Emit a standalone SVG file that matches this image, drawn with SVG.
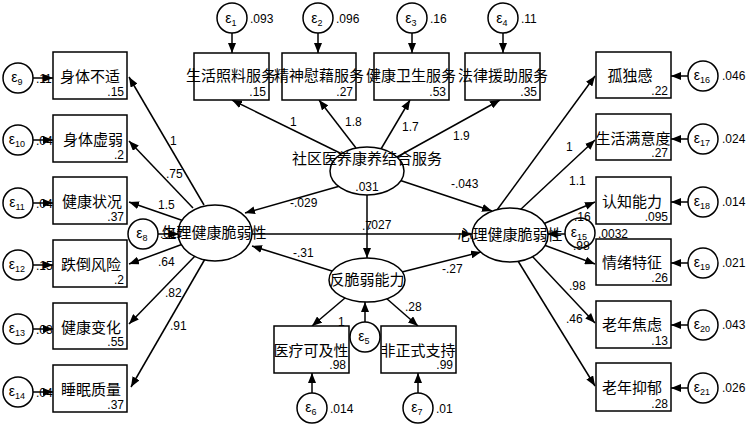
<svg xmlns="http://www.w3.org/2000/svg" width="748" height="426" viewBox="0 0 748 426">
<defs>
<marker id="ah" viewBox="0 0 10 8" refX="10" refY="4" markerWidth="10" markerHeight="8" markerUnits="userSpaceOnUse" orient="auto">
<path d="M0,0 L10,4 L0,8 Z" fill="#000"/>
</marker>
</defs>
<style>
rect.b{fill:#fff;stroke:#000;stroke-width:1.5}
circle.e{fill:#fff;stroke:#000;stroke-width:1.5}
ellipse.l{fill:#fff;stroke:#000;stroke-width:1.5}
.c line{stroke:#000;stroke-width:1.5;marker-end:url(#ah)}
text{font-family:"Liberation Sans","Noto Sans CJK SC",sans-serif;fill:#000}
.zh{font-family:"Noto Sans CJK SC","Liberation Sans",sans-serif;font-size:15px;text-anchor:middle}
.n{font-size:12px}
.v{font-size:12px;text-anchor:end}
.eps{font-size:14px;text-anchor:middle}
.sub{font-size:9px}
</style>

<g id="connectors" class="c">
<line x1="232" y1="33" x2="232" y2="53"/>
<line x1="318" y1="33" x2="318" y2="53"/>
<line x1="412" y1="33" x2="412" y2="53"/>
<line x1="503" y1="33" x2="503" y2="53"/>
<line x1="33" y1="78" x2="53" y2="78"/>
<line x1="33" y1="140" x2="53" y2="140"/>
<line x1="33" y1="203" x2="53" y2="203"/>
<line x1="33" y1="265" x2="53" y2="265"/>
<line x1="33" y1="329" x2="53" y2="329"/>
<line x1="33" y1="392" x2="53" y2="392"/>
<line x1="158" y1="234" x2="179" y2="234"/>
<line x1="688" y1="76" x2="671" y2="76"/>
<line x1="688" y1="139" x2="671" y2="139"/>
<line x1="688" y1="202" x2="671" y2="202"/>
<line x1="688" y1="263" x2="671" y2="263"/>
<line x1="688" y1="325" x2="671" y2="325"/>
<line x1="688" y1="388" x2="671" y2="388"/>
<line x1="565" y1="234" x2="547" y2="234"/>
<line x1="365" y1="322" x2="365" y2="302"/>
<line x1="312" y1="393" x2="312" y2="373"/>
<line x1="418" y1="393" x2="418" y2="373"/>
<line x1="342" y1="154" x2="232" y2="100"/>
<line x1="356" y1="148" x2="319" y2="100"/>
<line x1="381" y1="149" x2="410" y2="100"/>
<line x1="397" y1="157" x2="500" y2="100"/>
<line x1="340" y1="186" x2="245" y2="213"/>
<line x1="399" y1="180" x2="492" y2="211"/>
<line x1="367" y1="195" x2="367" y2="258"/>
<line x1="252" y1="234" x2="472" y2="234"/>
<line x1="332" y1="271" x2="252" y2="246"/>
<line x1="402" y1="272" x2="481" y2="252"/>
<line x1="345" y1="298" x2="312" y2="326"/>
<line x1="386" y1="298" x2="418" y2="326"/>
<line x1="204" y1="205" x2="129" y2="77"/>
<line x1="193" y1="208" x2="129" y2="141"/>
<line x1="184" y1="221" x2="129" y2="202"/>
<line x1="183" y1="244" x2="129" y2="264"/>
<line x1="195" y1="256" x2="129" y2="324"/>
<line x1="205" y1="259" x2="131" y2="387"/>
<line x1="497" y1="210" x2="595" y2="76"/>
<line x1="520" y1="210" x2="595" y2="140"/>
<line x1="543" y1="224" x2="595" y2="202"/>
<line x1="544" y1="245" x2="595" y2="264"/>
<line x1="532" y1="256" x2="595" y2="323"/>
<line x1="518" y1="261" x2="595" y2="386"/>
</g>

<g id="e1"><circle class="e" cx="232" cy="18" r="15"/><text class="eps" x="231" y="23">ε<tspan class="sub" dy="3">1</tspan></text><text class="n" x="250" y="23">.093</text></g>
<g id="e2"><circle class="e" cx="318" cy="18" r="15"/><text class="eps" x="317" y="23">ε<tspan class="sub" dy="3">2</tspan></text><text class="n" x="336" y="23">.096</text></g>
<g id="e3"><circle class="e" cx="412" cy="18" r="15"/><text class="eps" x="411" y="23">ε<tspan class="sub" dy="3">3</tspan></text><text class="n" x="430" y="23">.16</text></g>
<g id="e4"><circle class="e" cx="503" cy="18" r="15"/><text class="eps" x="502" y="23">ε<tspan class="sub" dy="3">4</tspan></text><text class="n" x="521" y="23">.11</text></g>

<g id="n_shzl"><rect class="b" x="194" y="53" width="75" height="47"/><text class="zh" x="231" y="81">生活照料服务</text><text class="v" x="266" y="96">.15</text></g>
<g id="n_jswj"><rect class="b" x="282" y="53" width="74" height="47"/><text class="zh" x="319" y="81">精神慰藉服务</text><text class="v" x="353" y="96">.27</text></g>
<g id="n_jkws"><rect class="b" x="374" y="53" width="75" height="47"/><text class="zh" x="411" y="81">健康卫生服务</text><text class="v" x="446" y="96">.53</text></g>
<g id="n_flyz"><rect class="b" x="465" y="53" width="75" height="47"/><text class="zh" x="503" y="81">法律援助服务</text><text class="v" x="537" y="96">.35</text></g>

<g id="e9"><circle class="e" cx="18" cy="78" r="15"/><text class="eps" x="17" y="82">ε<tspan class="sub" dy="3">9</tspan></text><text class="n" x="36" y="83">.11</text></g>
<g id="e10"><circle class="e" cx="18" cy="140" r="15"/><text class="eps" x="17" y="144">ε<tspan class="sub" dy="3">10</tspan></text><text class="n" x="36" y="145">.049</text></g>
<g id="e11"><circle class="e" cx="18" cy="203" r="15"/><text class="eps" x="17" y="207">ε<tspan class="sub" dy="3">11</tspan></text><text class="n" x="36" y="208">.049</text></g>
<g id="e12"><circle class="e" cx="18" cy="265" r="15"/><text class="eps" x="17" y="269">ε<tspan class="sub" dy="3">12</tspan></text><text class="n" x="36" y="270">.15</text></g>
<g id="e13"><circle class="e" cx="18" cy="329" r="15"/><text class="eps" x="17" y="333">ε<tspan class="sub" dy="3">13</tspan></text><text class="n" x="36" y="334">.032</text></g>
<g id="e14"><circle class="e" cx="18" cy="392" r="15"/><text class="eps" x="17" y="396">ε<tspan class="sub" dy="3">14</tspan></text><text class="n" x="36" y="397">.048</text></g>

<g id="n_stbs"><rect class="b" x="53" y="52" width="74" height="47"/><text class="zh" x="90" y="82">身体不适</text><text class="v" x="124" y="96">.15</text></g>
<g id="n_stxr"><rect class="b" x="53" y="115" width="74" height="47"/><text class="zh" x="93" y="145">身体虚弱</text><text class="v" x="124" y="159">.2</text></g>
<g id="n_jkzk"><rect class="b" x="53" y="177" width="74" height="47"/><text class="zh" x="92" y="207">健康状况</text><text class="v" x="124" y="221">.37</text></g>
<g id="n_ddfx"><rect class="b" x="53" y="240" width="74" height="47"/><text class="zh" x="91" y="270">跌倒风险</text><text class="v" x="124" y="284">.2</text></g>
<g id="n_jkbh"><rect class="b" x="53" y="303" width="74" height="46"/><text class="zh" x="91" y="333">健康变化</text><text class="v" x="124" y="346">.55</text></g>
<g id="n_smzl"><rect class="b" x="53" y="365" width="74" height="47"/><text class="zh" x="91" y="395">睡眠质量</text><text class="v" x="124" y="409">.37</text></g>

<g id="n_gdg"><rect class="b" x="596" y="52" width="75" height="46"/><text class="zh" x="630" y="81">孤独感</text><text class="v" x="668" y="95">.22</text></g>
<g id="n_shmyd"><rect class="b" x="596" y="114" width="75" height="46"/><text class="zh" x="633" y="144">生活满意度</text><text class="v" x="668" y="157">.27</text></g>
<g id="n_rznl"><rect class="b" x="596" y="177" width="75" height="47"/><text class="zh" x="632" y="207">认知能力</text><text class="v" x="668" y="221">.095</text></g>
<g id="n_qxtz"><rect class="b" x="596" y="239" width="75" height="46"/><text class="zh" x="632" y="268">情绪特征</text><text class="v" x="668" y="282">.26</text></g>
<g id="n_lnjl"><rect class="b" x="596" y="301" width="75" height="47"/><text class="zh" x="632" y="330">老年焦虑</text><text class="v" x="668" y="345">.13</text></g>
<g id="n_lnyy"><rect class="b" x="596" y="363" width="75" height="48"/><text class="zh" x="632" y="393">老年抑郁</text><text class="v" x="668" y="408">.28</text></g>

<g id="e16"><circle class="e" cx="703" cy="76" r="15"/><text class="eps" x="702" y="80">ε<tspan class="sub" dy="3">16</tspan></text><text class="n" x="722" y="80">.046</text></g>
<g id="e17"><circle class="e" cx="703" cy="139" r="15"/><text class="eps" x="702" y="143">ε<tspan class="sub" dy="3">17</tspan></text><text class="n" x="722" y="143">.024</text></g>
<g id="e18"><circle class="e" cx="703" cy="202" r="15"/><text class="eps" x="702" y="206">ε<tspan class="sub" dy="3">18</tspan></text><text class="n" x="722" y="206">.014</text></g>
<g id="e19"><circle class="e" cx="703" cy="263" r="15"/><text class="eps" x="702" y="267">ε<tspan class="sub" dy="3">19</tspan></text><text class="n" x="722" y="267">.021</text></g>
<g id="e20"><circle class="e" cx="703" cy="325" r="15"/><text class="eps" x="702" y="329">ε<tspan class="sub" dy="3">20</tspan></text><text class="n" x="722" y="329">.043</text></g>
<g id="e21"><circle class="e" cx="703" cy="388" r="15"/><text class="eps" x="702" y="392">ε<tspan class="sub" dy="3">21</tspan></text><text class="n" x="722" y="392">.026</text></g>

<g id="n_sq"><ellipse class="l" cx="367" cy="171" rx="37" ry="24"/><text class="zh" x="367" y="164">社区医养康养结合服务</text><text class="n" x="367" y="191" text-anchor="middle">.031</text></g>
<g id="e8"><circle class="e" cx="143" cy="234" r="15"/><text class="eps" x="142" y="238">ε<tspan class="sub" dy="3">8</tspan></text></g>
<g id="n_sl"><ellipse class="l" cx="215" cy="233" rx="37" ry="28"/><text class="n" x="160" y="238">.017</text><text class="zh" x="214" y="238">生理健康脆弱性</text></g>
<g id="e15"><circle class="e" cx="580" cy="233" r="15"/><text class="eps" x="579" y="237">ε<tspan class="sub" dy="3">15</tspan></text><text class="n" x="598" y="238">.0032</text></g>
<g id="n_xl"><ellipse class="l" cx="510" cy="235" rx="38" ry="27"/><text class="zh" x="510" y="240">心理健康脆弱性</text></g>
<g id="n_fcr"><ellipse class="l" cx="367" cy="280" rx="38" ry="22"/><text class="zh" x="367" y="285">反脆弱能力</text></g>
<g id="e5"><circle class="e" cx="365" cy="337" r="15"/><text class="eps" x="364" y="341">ε<tspan class="sub" dy="3">5</tspan></text><text class="n" x="383" y="340">.0046</text></g>

<g id="n_ylkj"><rect class="b" x="274" y="326" width="75" height="47"/><text class="zh" x="311" y="356">医疗可及性</text><text class="v" x="346" y="369">.98</text></g>
<g id="n_fzs"><rect class="b" x="381" y="326" width="75" height="47"/><text class="zh" x="418" y="356">非正式支持</text><text class="v" x="453" y="369">.99</text></g>
<g id="e6"><circle class="e" cx="312" cy="408" r="15"/><text class="eps" x="311" y="412">ε<tspan class="sub" dy="3">6</tspan></text><text class="n" x="330" y="413">.014</text></g>
<g id="e7"><circle class="e" cx="418" cy="408" r="15"/><text class="eps" x="417" y="412">ε<tspan class="sub" dy="3">7</tspan></text><text class="n" x="436" y="413">.01</text></g>

<g id="labels" class="n">
<text x="290" y="126">1</text>
<text x="345" y="126">1.8</text>
<text x="402" y="131">1.7</text>
<text x="453" y="140">1.9</text>
<text x="290" y="207">-.029</text>
<text x="451" y="188">-.043</text>
<text x="362" y="230">.7</text>
<text x="368" y="229">.027</text>
<text x="293" y="257">-.31</text>
<text x="442" y="273">-.27</text>
<text x="338" y="326">1</text>
<text x="405" y="311">.28</text>
<text x="170" y="145">1</text>
<text x="166" y="178">.75</text>
<text x="158" y="209">1.5</text>
<text x="158" y="266">.64</text>
<text x="165" y="297">.82</text>
<text x="170" y="330">.91</text>
<text x="566" y="151">1</text>
<text x="569" y="185">1.1</text>
<text x="574" y="221">.16</text>
<text x="573" y="250">.98</text>
<text x="569" y="290">.98</text>
<text x="566" y="323">.46</text>
</g>
</svg>
